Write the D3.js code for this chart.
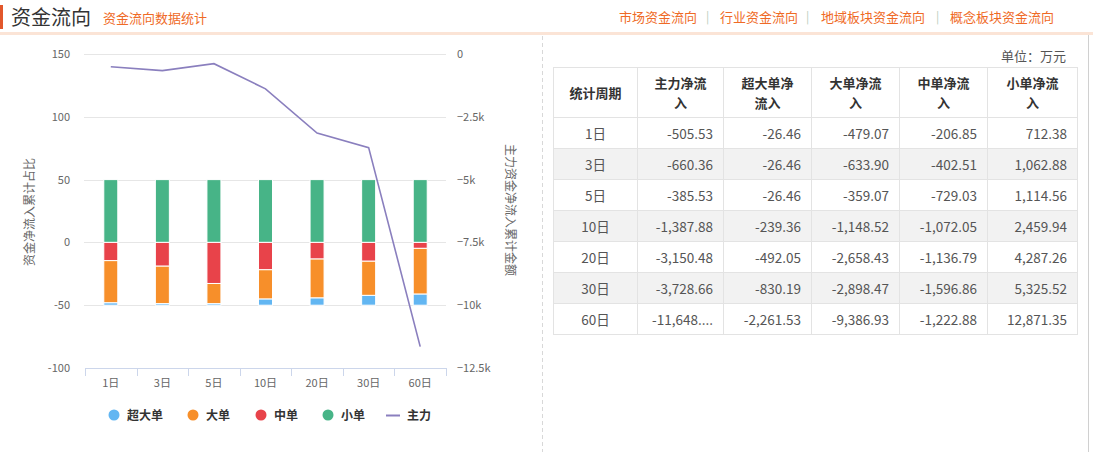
<!DOCTYPE html>
<html><head><meta charset="utf-8">
<script src="https://cdn.jsdelivr.net/npm/d3@7/dist/d3.min.js"></script>
<style>
body{margin:0;background:#fff;font-family:"Noto Sans CJK SC","Noto Sans",sans-serif;}
#wrap{position:relative;width:1093px;height:452px;overflow:hidden;}
svg{position:absolute;left:0;top:0;}
table{position:absolute;left:553px;top:67px;border-collapse:collapse;table-layout:fixed;width:524px;font-family:"Noto Sans CJK SC",sans-serif;}
td,th{border:1px solid #e3e3e3;height:30px;padding:0 10px 0 4px;font-size:13.5px;color:#555;white-space:nowrap;overflow:hidden;}
th{height:49px;font-weight:bold;color:#333;font-size:13px;text-align:center;white-space:normal;line-height:20px;padding:0 14px;}
td{text-align:right;}
td.p{text-align:center;padding:0;}
tr.g td{background:#f2f2f2;}
#unit{position:absolute;right:27px;top:46px;font-size:13px;color:#555;}
</style></head>
<body><div id="wrap"><svg id="c" width="1093" height="452"></svg><div id="unit">单位：万元</div></div>
<script>
const periods = ["1日","3日","5日","10日","20日","30日","60日"];
// table values (万元)
const mainFlow  = [-505.53,-660.36,-385.53,-1387.88,-3150.48,-3728.66,-11648.46];
const superFlow = [-26.46,-26.46,-26.46,-239.36,-492.05,-830.19,-2261.53];
const largeFlow = [-479.07,-633.90,-359.07,-1148.52,-2658.43,-2898.47,-9386.93];
const midFlow   = [-206.85,-402.51,-729.03,-1072.05,-1136.79,-1596.86,-1222.88];
const smallFlow = [712.38,1062.88,1114.56,2459.94,4287.26,5325.52,12871.35];
// bar percentages (累计占比)
const superPct = [-1.86,-1.24,-1.19,-4.87,-5.74,-7.79,-8.79];
const largePct = [-33.62,-29.82,-16.11,-23.34,-31.00,-27.21,-36.46];
const midPct   = [-14.52,-18.94,-32.71,-21.79,-13.26,-14.99,-4.75];
const smallPct = [50,50,50,50,50,50,50];
const leftTicks = [150,100,50,0,-50,-100];
const rightTicks = [0,-2500,-5000,-7500,-10000,-12500];
const headers = ["统计周期","主力净流入","超大单净流入","大单净流入","中单净流入","小单净流入"];
const legendNames = ["超大单","大单","中单","小单","主力"];
const colors = {super:"#62b6f2",large:"#f78f2a",mid:"#e8434a",small:"#47b487",main:"#8a7fbe"};

const svg = d3.select("#c");
// header
svg.append("rect").attr("x",0).attr("y",5).attr("width",3).attr("height",24).attr("fill","#e2572b");
svg.append("text").attr("x",11).attr("y",25).attr("font-size",20).attr("fill","#333").text("资金流向");
svg.append("text").attr("x",103).attr("y",23).attr("font-size",13).attr("fill","#ef6a26").text("资金流向数据统计");
const links=[["市场资金流向",619],["行业资金流向",720],["地域板块资金流向",821],["概念板块资金流向",950]];
links.forEach((l,i)=>{
  svg.append("text").attr("x",l[1]).attr("y",22).attr("font-size",13).attr("fill","#ef6a26").text(l[0]);
  if(i<3) svg.append("text").attr("x",[706,806,936][i]).attr("y",21).attr("font-size",12).attr("fill","#b9cdbd").text("|");
});
svg.append("rect").attr("x",0).attr("y",32).attr("width",1093).attr("height",3).attr("fill","#fbe4d6");
// dividers
svg.append("line").attr("x1",542.5).attr("x2",542.5).attr("y1",36).attr("y2",452).attr("stroke","#d8d8d8").attr("stroke-dasharray","4,3");
svg.append("line").attr("x1",1088.5).attr("x2",1088.5).attr("y1",35).attr("y2",452).attr("stroke","#d0d0d0");

const x = d3.scaleBand().domain(periods).range([85,446]);
const yL = d3.scaleLinear().domain([-100,150]).range([368,54]);
const yR = d3.scaleLinear().domain([-12500,0]).range([368,54]);

// grid
svg.append("g").selectAll("line").data(leftTicks.filter(d=>d!==-100)).join("line")
  .attr("x1",84).attr("x2",446).attr("y1",d=>Math.round(yL(d))+0.5).attr("y2",d=>Math.round(yL(d))+0.5)
  .attr("stroke","#e6e6e6");
// left labels
svg.append("g").selectAll("text").data(leftTicks).join("text")
  .attr("x",70).attr("y",d=>yL(d)+4).attr("text-anchor","end").attr("font-size",11).attr("fill","#666").text(d=>d);
// right labels
const fmtR = d=> d===0?"0":"\u2212"+(Math.abs(d)/1000)+"k";
svg.append("g").selectAll("text").data(rightTicks).join("text")
  .attr("x",457).attr("y",d=>yR(d)+4).attr("text-anchor","start").attr("font-size",11).attr("fill","#666").text(fmtR);
// x axis
const xa = svg.append("g").attr("transform","translate(0,368)");
xa.append("line").attr("x1",85).attr("x2",446).attr("y1",0.5).attr("y2",0.5).attr("stroke","#ccd6eb");
const bounds = periods.map(p=>x(p)).concat([x.range()[1]]);
xa.selectAll("line.t").data(bounds).join("line").attr("class","t")
  .attr("x1",d=>Math.round(d)+0.5).attr("x2",d=>Math.round(d)+0.5).attr("y1",0).attr("y2",8).attr("stroke","#ccd6eb");
xa.selectAll("text").data(periods).join("text")
  .attr("x",d=>x(d)+x.bandwidth()/2).attr("y",19).attr("text-anchor","middle").attr("font-size",11).attr("fill","#666").text(d=>d);
// axis titles
svg.append("text").attr("transform","translate(34,212) rotate(-90)").attr("text-anchor","middle").attr("font-size",12).attr("fill","#666").text("资金净流入累计占比");
svg.append("text").attr("transform","translate(506,210) rotate(90)").attr("text-anchor","middle").attr("font-size",12).attr("fill","#666").text("主力资金净流入累计金额");

// bars
const bw = 14;
const stacks = periods.map((p,i)=>{
  const segs=[];
  segs.push({k:"small",y0:0,y1:smallPct[i]});
  let c=0;
  segs.push({k:"mid",y0:c,y1:c+midPct[i]}); c+=midPct[i];
  segs.push({k:"large",y0:c,y1:c+largePct[i]}); c+=largePct[i];
  segs.push({k:"super",y0:c,y1:c+superPct[i]});
  return segs.map(s=>Object.assign({p},s));
}).flat();
svg.append("g").selectAll("rect").data(stacks).join("rect")
  .attr("x",d=>x(d.p)+x.bandwidth()/2-bw/2).attr("width",bw)
  .attr("y",d=>yL(Math.max(d.y0,d.y1))).attr("height",d=>Math.abs(yL(d.y0)-yL(d.y1)))
  .attr("fill",d=>colors[d.k]).attr("stroke","#fff").attr("stroke-width",1);
// line
const line = d3.line().x((d,i)=>x(periods[i])+x.bandwidth()/2).y(d=>yR(d));
svg.append("path").datum(mainFlow).attr("d",line).attr("fill","none").attr("stroke",colors.main).attr("stroke-width",1.6);

// legend
const lg=[["super",114,127],["large",193,206],["mid",261,274],["small",328,341],["main",393,407]];
lg.forEach((l,i)=>{
  if(l[0]==="main") svg.append("line").attr("x1",386).attr("x2",400).attr("y1",415.5).attr("y2",415.5).attr("stroke",colors.main).attr("stroke-width",2);
  else svg.append("circle").attr("cx",l[1]).attr("cy",415).attr("r",5.5).attr("fill",colors[l[0]]);
  svg.append("text").attr("x",l[2]).attr("y",420).attr("font-size",12).attr("font-weight","bold").attr("fill","#333").text(legendNames[i]);
});

// table
const fmt = d3.format(",.2f");
const trunc = s => s.length>9 ? s.slice(0,8)+"..." : s;
const tbl = d3.select("#wrap").append("table");
const cg = tbl.append("colgroup");
[84,86,88,88,88,90].forEach(w=>cg.append("col").style("width",w+"px"));
tbl.append("tr").selectAll("th").data(headers).join("th").text(d=>d);
periods.forEach((p,i)=>{
  const tr = tbl.append("tr").attr("class",i%2?"g":null);
  tr.append("td").attr("class","p").text(p);
  [mainFlow,superFlow,largeFlow,midFlow,smallFlow].forEach(arr=>tr.append("td").text(trunc(fmt(arr[i]).replace("−","-"))));
});
</script></body></html>
